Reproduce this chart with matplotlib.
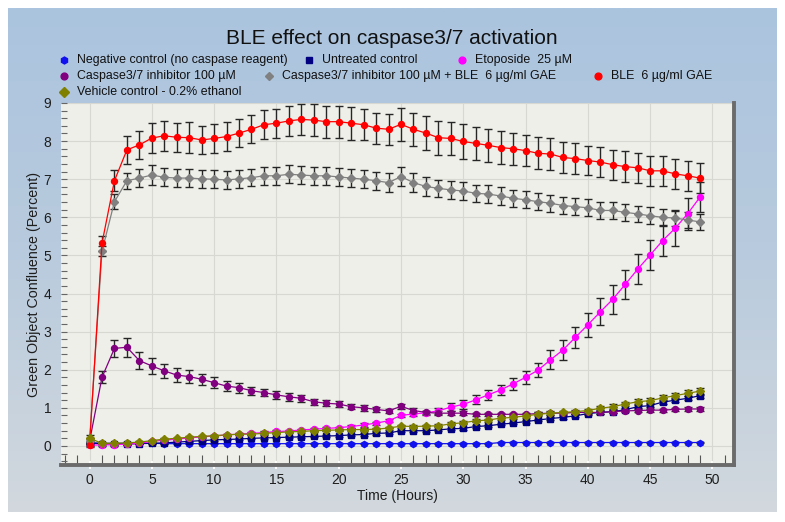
import numpy as np
import matplotlib
matplotlib.use("Agg")
import matplotlib.pyplot as plt
from matplotlib.lines import Line2D
from matplotlib.colors import LinearSegmentedColormap

plt.rcParams['font.family'] = ['Liberation Sans', 'DejaVu Sans']

# ---------------- data ----------------
hours = list(range(50))

labels = [
    "Negative control (no caspase reagent)",
    "Untreated control",
    "Etoposide  25 µM",
    "Caspase3/7 inhibitor 100 µM",
    "Caspase3/7 inhibitor 100 µM + BLE  6 µg/ml GAE",
    "BLE  6 µg/ml GAE",
    "Vehicle control - 0.2% ethanol",
]

neg_control = [0.08, 0.07, 0.07, 0.07, 0.07, 0.07, 0.06, 0.06, 0.06, 0.06,
               0.06, 0.06, 0.06, 0.06, 0.06, 0.06, 0.06, 0.06, 0.06, 0.06,
               0.06, 0.06, 0.06, 0.06, 0.06, 0.06, 0.06, 0.06, 0.06, 0.06,
               0.06, 0.06, 0.06, 0.09, 0.09, 0.09, 0.09, 0.09, 0.09, 0.09,
               0.09, 0.09, 0.09, 0.09, 0.09, 0.09, 0.09, 0.09, 0.09, 0.09]
neg_err = [0.02] * 50

untreated = [0.08, 0.06, 0.05, 0.05, 0.06, 0.07, 0.08, 0.10, 0.12, 0.14,
             0.16, 0.17, 0.18, 0.20, 0.21, 0.22, 0.23, 0.24, 0.25, 0.26,
             0.27, 0.29, 0.30, 0.33, 0.34, 0.40, 0.40, 0.40, 0.42, 0.45,
             0.46, 0.51, 0.53, 0.57, 0.60, 0.64, 0.68, 0.72, 0.75, 0.79,
             0.85, 0.88, 0.90, 0.95, 1.03, 1.06, 1.15, 1.20, 1.25, 1.32]
untreated_err = [0.03, 0.02, 0.02, 0.02, 0.02, 0.02, 0.02, 0.02, 0.02, 0.02,
                 0.02, 0.02, 0.02, 0.02, 0.02, 0.02, 0.02, 0.02, 0.02, 0.02,
                 0.03, 0.03, 0.03, 0.03, 0.03, 0.03, 0.03, 0.03, 0.03, 0.03,
                 0.03, 0.03, 0.03, 0.03, 0.03, 0.03, 0.03, 0.04, 0.04, 0.04,
                 0.04, 0.04, 0.04, 0.04, 0.04, 0.05, 0.05, 0.05, 0.05, 0.05]

etoposide = [0.02, 0.03, 0.03, 0.05, 0.07, 0.12, 0.15, 0.18, 0.21, 0.24,
             0.26, 0.29, 0.31, 0.33, 0.35, 0.38, 0.39, 0.42, 0.44, 0.46,
             0.48, 0.51, 0.55, 0.60, 0.66, 0.80, 0.84, 0.87, 0.92, 1.02,
             1.09, 1.21, 1.34, 1.47, 1.63, 1.80, 1.99, 2.26, 2.52, 2.85,
             3.18, 3.52, 3.85, 4.24, 4.64, 5.01, 5.39, 5.71, 6.09, 6.53]
etoposide_err = [0.02, 0.02, 0.02, 0.02, 0.02, 0.02, 0.02, 0.02, 0.02, 0.02,
                 0.02, 0.02, 0.02, 0.03, 0.03, 0.03, 0.03, 0.03, 0.03, 0.03,
                 0.03, 0.04, 0.04, 0.04, 0.04, 0.05, 0.05, 0.06, 0.07, 0.10,
                 0.12, 0.12, 0.13, 0.13, 0.16, 0.17, 0.18, 0.25, 0.27, 0.28,
                 0.31, 0.35, 0.38, 0.38, 0.39, 0.39, 0.40, 0.45, 0.42, 0.40]

inhibitor = [0.12, 1.80, 2.56, 2.59, 2.24, 2.10, 1.97, 1.86, 1.82, 1.75,
             1.66, 1.57, 1.53, 1.45, 1.40, 1.34, 1.29, 1.25, 1.16, 1.12,
             1.10, 1.03, 1.00, 0.96, 0.92, 1.04, 0.93, 0.88, 0.86, 0.86,
             0.86, 0.83, 0.83, 0.83, 0.83, 0.83, 0.85, 0.86, 0.86, 0.88,
             0.88, 0.88, 0.90, 0.92, 0.93, 0.94, 0.94, 0.96, 0.97, 0.97]
inhibitor_err = [0.10, 0.16, 0.23, 0.25, 0.23, 0.20, 0.19, 0.18, 0.16, 0.15,
                 0.15, 0.14, 0.13, 0.11, 0.10, 0.10, 0.10, 0.09, 0.08, 0.08,
                 0.08, 0.07, 0.07, 0.07, 0.06, 0.07, 0.06, 0.05, 0.05, 0.05,
                 0.05, 0.04, 0.04, 0.04, 0.04, 0.04, 0.04, 0.04, 0.04, 0.04,
                 0.04, 0.04, 0.04, 0.04, 0.04, 0.04, 0.04, 0.04, 0.04, 0.04]

inhibitor_ble = [0.12, 5.11, 6.41, 6.96, 7.03, 7.11, 7.05, 7.03, 7.03, 7.01,
                 7.00, 6.98, 7.01, 7.04, 7.09, 7.09, 7.13, 7.11, 7.09, 7.09,
                 7.06, 7.03, 7.00, 6.96, 6.91, 7.07, 6.91, 6.81, 6.76, 6.72,
                 6.69, 6.63, 6.61, 6.56, 6.50, 6.46, 6.41, 6.37, 6.31, 6.28,
                 6.25, 6.18, 6.18, 6.13, 6.09, 6.04, 6.00, 5.98, 5.93, 5.88]
inhibitor_ble_err = [0.05, 0.13, 0.20, 0.21, 0.23, 0.25, 0.24, 0.23, 0.23, 0.23,
                     0.23, 0.23, 0.23, 0.23, 0.23, 0.24, 0.24, 0.24, 0.24, 0.24,
                     0.24, 0.24, 0.24, 0.24, 0.24, 0.25, 0.24, 0.24, 0.23, 0.23,
                     0.23, 0.23, 0.23, 0.23, 0.22, 0.22, 0.22, 0.22, 0.22, 0.22,
                     0.22, 0.22, 0.22, 0.22, 0.22, 0.22, 0.22, 0.22, 0.22, 0.22]

ble = [0.03, 5.32, 6.96, 7.77, 7.90, 8.08, 8.14, 8.10, 8.09, 8.03,
       8.07, 8.12, 8.21, 8.31, 8.43, 8.47, 8.53, 8.57, 8.55, 8.51,
       8.51, 8.47, 8.43, 8.34, 8.31, 8.44, 8.31, 8.21, 8.09, 8.07,
       7.99, 7.94, 7.89, 7.83, 7.80, 7.75, 7.68, 7.66, 7.57, 7.54,
       7.49, 7.45, 7.38, 7.33, 7.30, 7.22, 7.22, 7.14, 7.09, 7.03]
ble_err = [0.05, 0.20, 0.28, 0.36, 0.37, 0.40, 0.39, 0.38, 0.40, 0.37,
           0.38, 0.37, 0.36, 0.37, 0.38, 0.38, 0.40, 0.41, 0.42, 0.42,
           0.42, 0.43, 0.41, 0.41, 0.41, 0.43, 0.44, 0.44, 0.45, 0.43,
           0.45, 0.44, 0.43, 0.43, 0.42, 0.41, 0.42, 0.41, 0.40, 0.40,
           0.39, 0.40, 0.39, 0.40, 0.40, 0.40, 0.39, 0.40, 0.39, 0.39]

vehicle = [0.20, 0.07, 0.07, 0.08, 0.10, 0.14, 0.18, 0.20, 0.23, 0.25,
           0.27, 0.29, 0.31, 0.31, 0.33, 0.35, 0.37, 0.38, 0.40, 0.41,
           0.42, 0.43, 0.43, 0.44, 0.47, 0.52, 0.51, 0.52, 0.53, 0.58,
           0.61, 0.66, 0.68, 0.73, 0.75, 0.79, 0.83, 0.86, 0.88, 0.90,
           0.93, 0.99, 1.03, 1.10, 1.16, 1.19, 1.26, 1.32, 1.38, 1.44]
vehicle_err = [0.08, 0.02, 0.02, 0.02, 0.02, 0.02, 0.02, 0.02, 0.02, 0.02,
               0.02, 0.02, 0.03, 0.03, 0.03, 0.03, 0.03, 0.03, 0.03, 0.03,
               0.03, 0.03, 0.03, 0.04, 0.04, 0.04, 0.04, 0.04, 0.04, 0.04,
               0.04, 0.04, 0.04, 0.05, 0.05, 0.05, 0.05, 0.05, 0.05, 0.05,
               0.05, 0.05, 0.06, 0.06, 0.06, 0.07, 0.07, 0.08, 0.08, 0.09]

series = [neg_control, untreated, etoposide, inhibitor, inhibitor_ble, ble, vehicle]
errors = [neg_err, untreated_err, etoposide_err, inhibitor_err, inhibitor_ble_err, ble_err, vehicle_err]
colors = ['#1010f0', '#000080', '#ff00ff', '#800080', '#808080', '#ff0000', '#808000']
markers = ['h', 's', 'o', 'o', 'D', 'o', 'D']
msizes = [4.4, 3.8, 4.3, 4.3, 3.6, 4.3, 4.0]

x_ticks = [0, 5, 10, 15, 20, 25, 30, 35, 40, 45, 50]
y_ticks = [0, 1, 2, 3, 4, 5, 6, 7, 8, 9]

# ---------------- figure ----------------
W, H = 785, 522
fig = plt.figure(figsize=(W / 100, H / 100), dpi=100, facecolor='white')

def fx(p):
    return p / W

def fy(p):
    return 1 - p / H

# gradient panel
bg = fig.add_axes([fx(8), fy(512), (777 - 8) / W, (512 - 8) / H], zorder=-5)
cmap = LinearSegmentedColormap.from_list('panel', ['#abc4df', '#b9cbdd', '#d2d8de'])
grad = np.linspace(0, 1, 256).reshape(-1, 1)
bg.imshow(grad, aspect='auto', cmap=cmap, extent=[0, 1, 0, 1], origin='upper')
bg.set_axis_off()

# main axes
left, right, top, bottom = 61, 734, 103, 465
ax = fig.add_axes([fx(left), fy(bottom), (right - left) / W, (bottom - top) / H])
ax.set_facecolor('#efefe9')
ax.set_xlim(-2.29, 51.73)
ax.set_ylim(-0.50, 9.0)

for vals, err, c, m, ms in zip(series, errors, colors, markers, msizes):
    ax.errorbar(hours, vals, yerr=err, color=c, marker=m, markersize=ms,
                markeredgecolor=c, linewidth=0.9, ecolor='#262626',
                elinewidth=1.0, capsize=2.8, capthick=1.0, zorder=3)

ax.set_axisbelow(True)
ax.set_xticks(x_ticks)
ax.set_xticks(range(-2, 52), minor=True)
ax.set_yticks(y_ticks)
ax.set_yticks(np.arange(-0.4, 9.0, 0.2), minor=True)
ax.grid(which='major', color='#d8d8d2', linewidth=0.8)

for s in ['left', 'top']:
    ax.spines[s].set_visible(False)
for s in ['bottom', 'right']:
    ax.spines[s].set_color('#6b6b6b')
    ax.spines[s].set_linewidth(2.8)

ax.tick_params(axis='x', which='major', direction='inout', length=6, width=1.3,
               color='white', labelsize=10, labelcolor='#1e1e1e', pad=3)
ax.tick_params(axis='x', which='minor', direction='in', length=7, width=0.8,
               color='#555555')
ax.tick_params(axis='y', which='both', direction='in', length=4.5, width=0.8,
               color='#666666', labelsize=10, labelcolor='#1e1e1e', pad=7)

ax.set_xlabel('Time (Hours)', fontsize=10, color='#1e1e1e', labelpad=1)
ax.set_ylabel('Green Object Confluence (Percent)', fontsize=10.3, color='#1e1e1e', labelpad=2)

# title
fig.text(fx(392), fy(38), 'BLE effect on caspase3/7 activation', ha='center', va='center',
         fontsize=15, color='#111111')

# legend (manual layout)
legend_rows = [
    [(0, 64), (1, 309), (2, 462)],
    [(3, 64), (4, 269), (5, 598)],
    [(6, 64)],
]
row_y = [60, 76, 92]
for ry, row in zip(row_y, legend_rows):
    for idx, mx in row:
        fig.add_artist(Line2D([fx(mx)], [fy(ry)], transform=fig.transFigure,
                              marker=markers[idx], markersize=msizes[idx] + 0.6,
                              color=colors[idx], markeredgecolor=colors[idx],
                              linestyle='none'))
        fig.text(fx(mx + 13), fy(ry), labels[idx], ha='left', va='center',
                 fontsize=8.9, color='#111111')

fig.savefig('out.png', dpi=100, facecolor='white')
